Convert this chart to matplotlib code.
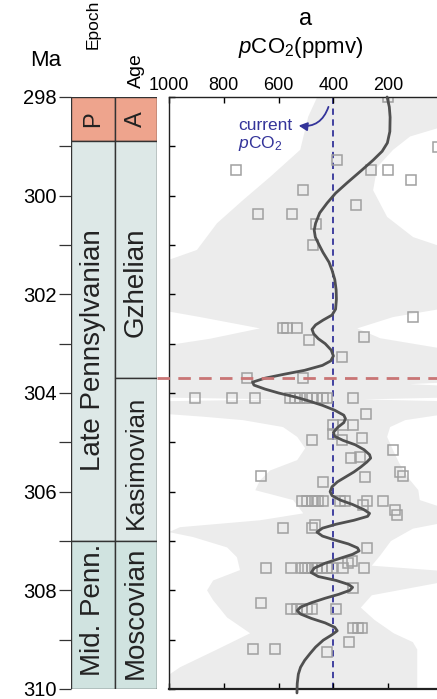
import numpy as np
import matplotlib
matplotlib.use("Agg")
import matplotlib.pyplot as plt
from matplotlib.patches import Rectangle

plt.rcParams['font.family'] = ['Liberation Sans', 'DejaVu Sans']
plt.rcParams['mathtext.fontset'] = 'custom'
plt.rcParams['mathtext.rm'] = 'Liberation Sans'
plt.rcParams['mathtext.it'] = 'Liberation Sans:italic'

# ---- data ----
# smoothed pCO2 curve (Ma, ppmv)
curve_age = [298.0, 298.2, 298.41, 298.7, 298.93, 299.1, 299.28, 299.5, 299.74, 299.95,
             300.15, 300.35, 300.56, 300.7, 300.84, 301.0, 301.15, 301.35, 301.51, 301.7,
             301.91, 302.1, 302.3, 302.42, 302.52, 302.62, 302.71, 302.8, 302.9, 303.0,
             303.13, 303.25, 303.35, 303.44, 303.54, 303.62, 303.7, 303.78, 303.84, 303.92,
             304.0, 304.08, 304.15, 304.25, 304.35, 304.45, 304.52, 304.6, 304.7, 304.8,
             304.88, 304.96, 305.05, 305.15, 305.25, 305.32, 305.4, 305.5, 305.6, 305.7,
             305.8, 305.9, 306.0, 306.08, 306.17, 306.26, 306.36, 306.44, 306.5, 306.58,
             306.66, 306.74, 306.82, 306.9, 306.98, 307.06, 307.14, 307.2, 307.27, 307.35,
             307.45, 307.55, 307.64, 307.72, 307.8, 307.88, 307.94, 308.0, 308.08, 308.16,
             308.25, 308.34, 308.41, 308.48, 308.57, 308.66, 308.75, 308.82, 308.9, 309.01,
             309.15, 309.28, 309.42, 309.56, 309.7, 309.89, 310.08]
curve_ppm = [204, 196, 193, 194, 203, 222, 255, 300, 350, 392,
             423, 450, 465, 470, 466, 452, 438, 416, 405, 395,
             390, 389, 392, 405, 437, 465, 478, 472, 455, 430,
             408, 400, 410, 440, 505, 580, 650, 695, 690, 650,
             600, 540, 496, 440, 395, 362, 356, 362, 385, 400,
             395, 365, 320, 288, 268, 264, 278, 300, 325, 355,
             385, 405, 412, 405, 375, 330, 290, 268, 275, 325,
             390, 440, 460, 440, 395, 345, 312, 306, 330, 375,
             430, 470, 481, 455, 390, 345, 330, 340, 380, 430,
             480, 520, 532, 520, 480, 430, 395, 386, 405, 437,
             465, 485, 505, 520, 528, 532, 533]

# proxy estimates (open squares)
pt_age = [298.0, 299.01, 299.28, 299.48, 299.48, 299.48, 299.68, 299.89, 300.19, 300.37,
          300.37, 300.58, 301.0, 302.46, 302.69, 302.69, 302.69, 302.87, 302.93, 303.27,
          303.70, 303.70,
          304.11, 304.11, 304.11, 304.11, 304.11, 304.11, 304.11, 304.11, 304.11, 304.11,
          304.11, 304.11,
          304.43, 304.65, 304.65, 304.65, 304.84, 304.96, 304.96, 304.92, 305.16, 305.30,
          305.32, 305.61, 305.69, 305.71, 305.69, 305.81,
          306.19, 306.19, 306.19, 306.19, 306.19, 306.19, 306.19, 306.19, 306.19, 306.19,
          306.28, 306.38, 306.48, 306.74, 306.74, 306.68, 307.15, 307.40, 307.45,
          307.55, 307.55, 307.55, 307.55, 307.55, 307.55, 307.55, 307.55, 307.55, 307.55,
          307.55, 307.55,
          307.96, 308.26,
          308.37, 308.37, 308.37, 308.37, 308.37, 308.37,
          308.77, 308.77, 308.77, 309.05, 309.18, 309.18, 309.26]
pt_ppm = [200, 20, 386, 755, 262, 200, 116, 510, 317, 675,
          551, 463, 474, 109, 584, 569, 532, 288, 489, 368,
          715, 510,
          905, 770, 686, 558, 540, 521, 496, 478, 460, 437,
          423, 328,
          280, 401, 365, 328, 401, 368, 478, 295, 182, 302,
          336, 156, 145, 284, 664, 437,
          514, 496, 478, 467, 456, 437, 375, 357, 277, 218,
          291, 175, 167, 584, 478, 467, 277, 332, 346,
          646, 555, 514, 503, 492, 478, 460, 441, 423, 405,
          365, 288,
          328, 664,
          555, 532, 514, 496, 478, 390,
          328, 310, 295, 342, 693, 613, 423]

# shaded uncertainty envelope: high-pCO2 edge and low-pCO2 edge
env_left_age = [297.9, 298.0, 298.4, 299.07, 299.62, 300.09, 300.56, 301.1, 301.3, 301.4,
                302.3, 302.46, 302.69, 302.9, 303.07, 304.09, 304.13, 304.17, 304.41, 304.48,
                304.55, 304.69, 304.89, 305.12, 305.36, 305.57, 305.77, 305.97, 306.17, 306.44,
                306.58, 306.72, 306.82, 306.92, 307.13, 307.33, 307.59, 307.8, 308.0, 308.2,
                308.55, 308.87, 309.2, 309.56, 309.9, 310.2]
env_left_ppm = [459, 459, 492, 521, 631, 730, 825, 898, 1000, 1050,
                1050, 887, 668, 850, 1050, 1050, 584, 1050, 1050, 876,
                730, 584, 532, 503, 532, 631, 668, 685, 547, 510,
                668, 960, 1000, 912, 788, 752, 741, 839, 861, 839,
                788, 704, 825, 960, 1050, 1050]
env_right_age = [297.9, 298.55, 298.8, 299.07, 299.42, 299.89, 300.43, 300.84, 301.1, 302.26,
                 302.46, 302.69, 302.89, 303.13, 303.78, 303.82, 303.86, 304.09, 304.13, 304.17,
                 304.41, 304.55, 304.69, 304.89, 305.16, 305.42, 305.7, 305.97, 306.17, 306.38,
                 306.6, 306.75, 307.0, 307.3, 307.5, 307.62, 307.8, 308.1, 308.35, 308.6,
                 308.87, 309.05, 309.2, 309.9, 310.2]
env_right_ppm = [-30, -30, 120, 182, 240, 255, 204, 109, -30, -30,
                 182, 313, 229, -30, -30, 120, -30, -30, 290, -30,
                 -30, 138, 193, 204, 182, 160, 130, 90, 85, -30,
                 -30, 110, 190, 230, 260, -30, -30, 260, 300, 250,
                 180, 110, 94, 94, 94]

# chronostratigraphy (label, top Ma, base Ma, colour)
epochs = [("P", 298.0, 298.9, "#eea48d"),
          ("Late Pennsylvanian", 298.9, 307.0, "#dde8e7"),
          ("Mid. Penn.", 307.0, 310.0, "#d0e3e0")]
stages = [("A", 298.0, 298.9, "#eea48d"),
          ("Gzhelian", 298.9, 303.7, "#dde8e7"),
          ("Kasimovian", 303.7, 307.0, "#dde8e7"),
          ("Moscovian", 307.0, 310.0, "#d0e3e0")]
boundary_age = 303.7
current_co2 = 400

# ---- figure ----
W, H = 437, 699
fig = plt.figure(figsize=(W / 100, H / 100), dpi=100)

def fx(x): return x / W
def fy(y): return 1 - y / H

top_px, bot_px = 97, 689
ax = fig.add_axes([fx(169), fy(bot_px), 274 / W, (bot_px - top_px) / H])
st = fig.add_axes([fx(71), fy(bot_px), 86 / W, (bot_px - top_px) / H])

blue = "#34349a"
ax.fill(np.concatenate([env_left_ppm, env_right_ppm[::-1]]),
        np.concatenate([env_left_age, env_right_age[::-1]]),
        color="#ececec", lw=0, zorder=0)
ax.axvline(current_co2, color=blue, ls=(0, (3.5, 2.5)), lw=1.3, zorder=1)
ax.plot(pt_ppm, pt_age, "s", ms=7.8, mfc="none", mec="#a0a0a0", mew=1.1, zorder=2)
ax.plot(curve_ppm, curve_age, color="#505050", lw=2.0, zorder=3, clip_on=False,
        solid_capstyle="round", solid_joinstyle="round")
ax.axhline(boundary_age, xmin=(157 - 169) / 274, xmax=1, color="#c97575",
           ls=(0, (4.5, 3)), lw=2.0, clip_on=False, zorder=4)

ax.text(748, 298.57, "current", color=blue, fontsize=12.5, ha="left", va="center")
ax.text(748, 298.95, r"$p$CO$_2$", color=blue, fontsize=12.5, ha="left", va="center")
ax.annotate("", xy=(527, 298.58), xytext=(418, 298.2),
            arrowprops=dict(arrowstyle="-|>,head_length=0.5,head_width=0.25", color=blue,
                            lw=1.3, shrinkA=0, shrinkB=0,
                            connectionstyle="arc3,rad=-0.4"))

ax.set_xlim(1000, 0)
ax.set_ylim(310, 298)
ax.set_xticks([1000, 800, 600, 400, 200, 0], labels=["1000", "800", "600", "400", "200", "0"],
              fontsize=13)
ax.set_yticks(range(298, 311))
ax.tick_params(axis="x", top=True, bottom=True, labeltop=True, labelbottom=False,
               direction="in", length=4.5, width=1, pad=2.5)
ax.tick_params(axis="y", left=True, right=True, labelleft=False, direction="in",
               length=4.5, width=1)
for s in ax.spines.values():
    s.set_color("#222222")
    s.set_linewidth(1.0)
ax.spines["bottom"].set_linewidth(1.6)

# strat column; label positions nudged to where the reference prints them
st.set_xlim(0, 86)
st.set_ylim(310, 298)
epoch_nudge = [0.0, 0.18, -0.1]
stage_nudge = [0.0, 0.45, 0.05, -0.05]
for (lab, t, b, c), dy in zip(epochs, epoch_nudge):
    st.add_patch(Rectangle((0, t), 44, b - t, fc=c, ec="#333333", lw=1.0))
    fs = 17 if len(lab) == 1 else 20
    st.text(22, (t + b) / 2 + dy, lab, rotation=90, ha="center", va="center", fontsize=fs,
            color="#222222")
for (lab, t, b, c), dy in zip(stages, stage_nudge):
    st.add_patch(Rectangle((44, t), 42, b - t, fc=c, ec="#333333", lw=1.0))
    fs = 17 if len(lab) == 1 else (18.5 if lab == "Kasimovian" else 20)
    st.text(65, (t + b) / 2 + dy, lab, rotation=90, ha="center", va="center", fontsize=fs,
            color="#222222")
for s in st.spines.values():
    s.set_visible(False)
st.set_xticks([])
st.set_yticks(range(298, 311, 2), labels=[str(v) for v in range(298, 311, 2)],
              fontsize=14.5)
st.set_yticks(range(299, 310, 2), minor=True)
st.tick_params(axis="y", which="both", direction="out", length=8.5, width=0.9,
               color="#333333", pad=2)

# headers
fig.text(fx(46), fy(61), "Ma", ha="center", va="center", fontsize=16)
fig.text(fx(93), fy(49), "Epoch", rotation=90, ha="center", va="bottom", fontsize=12.5)
fig.text(fx(136), fy(88), "Age", rotation=90, ha="center", va="bottom", fontsize=14)
fig.text(fx(306), fy(19), "a", ha="center", va="center", fontsize=17)
fig.text(fx(301), fy(47), r"$p$CO$_2$(ppmv)", ha="center", va="center", fontsize=16)

fig.savefig("out.png", dpi=100)
